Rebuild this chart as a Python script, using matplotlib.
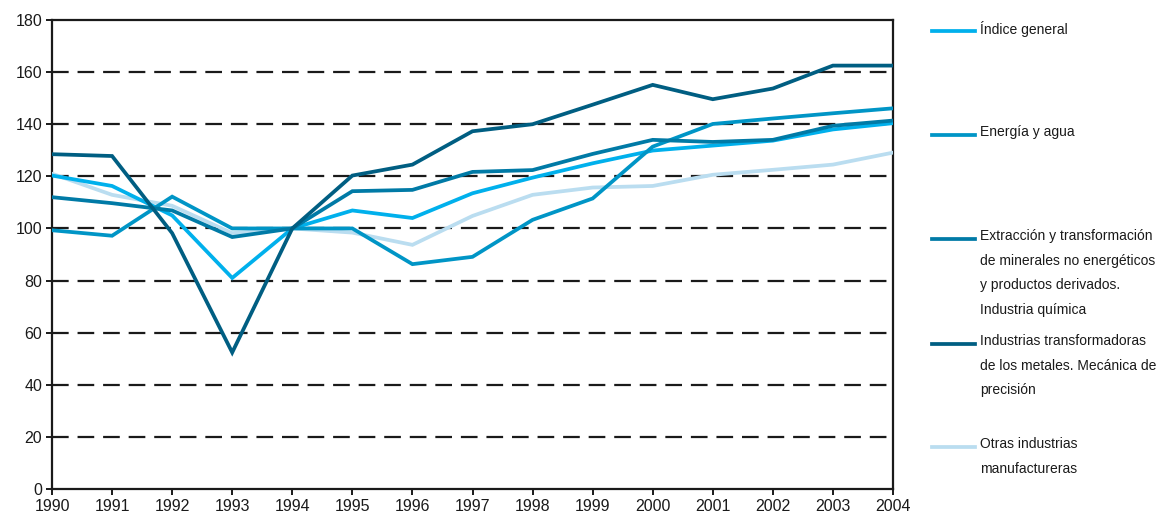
import matplotlib
import matplotlib.pyplot as plt
from matplotlib.lines import Line2D

matplotlib.use("Agg")

years = list(range(1990, 2005))

indice_general = [120.3, 116.3, 105.0, 81.0, 100.0, 106.9, 104.0, 113.5,
                  119.5, 125.0, 129.9, 131.8, 133.7, 138.0, 140.4]
energia_agua = [99.3, 97.2, 112.2, 100.0, 100.0, 100.0, 86.3, 89.1,
                103.3, 111.5, 131.4, 140.1, 142.2, 144.2, 146.1]
extraccion = [112.0, 109.7, 106.9, 96.7, 100.0, 114.3, 114.8, 121.7,
              122.4, 128.6, 134.0, 133.2, 134.0, 139.4, 141.4]
metales = [128.5, 127.8, 98.2, 52.4, 100.0, 120.3, 124.5, 137.3,
           140.0, 147.5, 155.1, 149.6, 153.7, 162.5, 162.5]
otras = [121.0, 112.9, 108.7, 98.2, 100.0, 98.4, 93.7, 104.8,
         112.9, 115.7, 116.3, 120.6, 122.5, 124.5, 129.1]

labels = [
    "Índice general",
    "Energía y agua",
    "Extracción y transformación\nde minerales no energéticos\ny productos derivados.\nIndustria química",
    "Industrias transformadoras\nde los metales. Mecánica de\nprecisión",
    "Otras industrias\nmanufactureras",
]
colors = ["#00B0EC", "#0095C6", "#007AA6", "#005E82", "#BADDF0"]

plt.rcParams["font.family"] = ["Liberation Sans", "DejaVu Sans"]

W, H = 1162, 521
fig = plt.figure(figsize=(W / 100, H / 100), dpi=100)
ax = fig.add_axes([52 / W, 1 - 489 / H, (893 - 52) / W, (489 - 20) / H])

# dashed horizontal guides
for yv in range(20, 180, 20):
    ax.axhline(yv, color="#1a1a1a", lw=1.6, dashes=(7.5, 4.0), zorder=1)

# draw lighter series first so the darker ones sit on top
order = [4, 0, 1, 2, 3]
series = [indice_general, energia_agua, extraccion, metales, otras]
for i in order:
    ax.plot(years, series[i], color=colors[i], lw=2.7, zorder=3,
            solid_joinstyle="miter")

ax.set_xlim(1990, 2004)
ax.set_ylim(0, 180)
ax.set_xticks(years)
ax.set_yticks(range(0, 181, 20))
ax.tick_params(axis="both", direction="out", length=4, width=1.4,
               labelsize=11.5, color="#1a1a1a", labelcolor="#1a1a1a", pad=3)
for sp in ax.spines.values():
    sp.set_linewidth(1.6)
    sp.set_color("#1a1a1a")

# legend to the right of the plot
sw_y = [31, 135, 239, 344, 447]
for lab, col, yp in zip(labels, colors, sw_y):
    fig.add_artist(Line2D([932 / W, 975 / W], [1 - yp / H, 1 - yp / H],
                          color=col, lw=2.7, transform=fig.transFigure))
    fig.text(980 / W, 1 - (yp - 10) / H, lab, ha="left", va="top",
             fontsize=10, color="#1a1a1a", linespacing=1.96)

fig.savefig("out.png", dpi=100, facecolor="white")
plt.close(fig)
